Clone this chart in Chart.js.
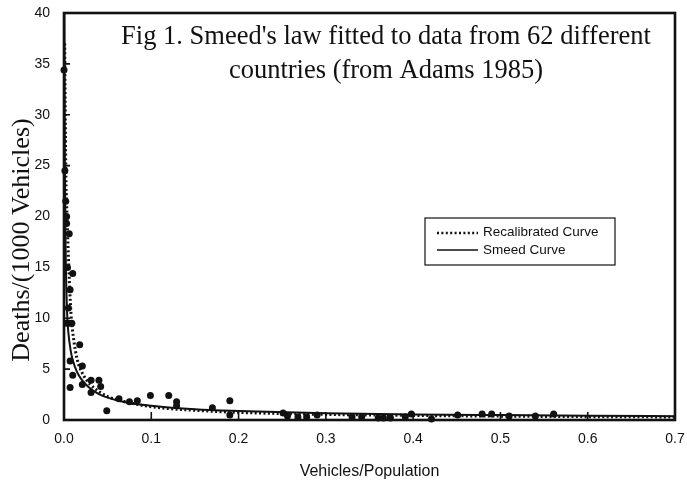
<!DOCTYPE html>
<html>
<head>
<meta charset="utf-8">
<script src="https://cdn.jsdelivr.net/npm/chart.js@4.4.0/dist/chart.umd.min.js"></script>
<style>
  html, body { margin: 0; padding: 0; background: #fff; }
  #wrap { width: 687px; height: 481px; }
</style>
</head>
<body>
<div id="wrap"><canvas id="chart" width="687" height="481"></canvas></div>
<script>
// --- data ---
const countryX = [0.000, 0.003, 0.006, 0.010, 0.007, 0.003, 0.006, 0.009, 0.018, 0.007,
                  0.021, 0.010, 0.007, 0.021, 0.031, 0.031, 0.040, 0.042, 0.049, 0.063,
                  0.075, 0.084, 0.099, 0.120, 0.129, 0.129, 0.170, 0.190, 0.190, 0.251,
                  0.256, 0.268, 0.278, 0.290, 0.330, 0.341, 0.360, 0.366, 0.374, 0.391,
                  0.398, 0.421, 0.451, 0.479, 0.490, 0.510, 0.540, 0.561, 0.002, 0.004,
                  0.005, 0.001, 0.003];
const countryY = [34.4, 19.3, 18.3, 14.4, 12.8, 9.5, 9.5, 9.5, 7.4, 5.8,
                  5.3, 4.4, 3.2, 3.5, 3.9, 2.7, 3.9, 3.3, 0.9, 2.1,
                  1.8, 1.9, 2.4, 2.4, 1.8, 1.4, 1.2, 1.9, 0.5, 0.7,
                  0.4, 0.3, 0.3, 0.5, 0.3, 0.3, 0.2, 0.2, 0.2, 0.3,
                  0.6, 0.1, 0.5, 0.6, 0.6, 0.4, 0.4, 0.6, 21.5, 15.0,
                  11.0, 24.5, 20.0];

const smeedX = [0.0004, 0.001, 0.002, 0.0036, 0.005, 0.0075, 0.01, 0.015,
                0.02, 0.03, 0.04, 0.05, 0.07, 0.1, 0.15, 0.2, 0.3, 0.4, 0.5, 0.6, 0.7];
const smeedY = [41, 25, 16, 10.5, 8.6, 6.9, 5.9, 4.7,
                4.0, 3.1, 2.55, 2.2, 1.75, 1.4, 1.05, 0.88, 0.67, 0.55, 0.48, 0.42, 0.38];

const recalX = [0.0008, 0.002, 0.0035, 0.0055, 0.008, 0.011, 0.015, 0.021, 0.03,
                0.04, 0.05, 0.07, 0.1, 0.15, 0.2, 0.3, 0.4, 0.5, 0.6, 0.7];
const recalY = [37, 25, 20, 15, 10.5, 8, 6, 4.6, 3.5,
                2.8, 2.3, 1.8, 1.3, 0.95, 0.75, 0.55, 0.45, 0.38, 0.33, 0.3];

const xTickLabels = ["0.0", "0.1", "0.2", "0.3", "0.4", "0.5", "0.6", "0.7"];
const yTickLabels = ["0", "5", "10", "15", "20", "25", "30", "35", "40"];
const xTickValues = xTickLabels.map(Number);
const yTickValues = yTickLabels.map(Number);

const titleLines = ["Fig 1. Smeed's law fitted to data from 62 different",
                    "countries (from Adams 1985)"];
const yTitle = "Deaths/(1000 Vehicles)";
const xTitle = "Vehicles/Population";
const legendLabels = ["Recalibrated Curve", "Smeed Curve"];

const ink = "#111";
const toXY = (xs, ys) => xs.map((x, i) => ({ x: x, y: ys[i] }));

// frame, inward ticks, in-plot title, y title and boxed legend
const decor = {
    id: "decor",
    afterDraw(chart) {
        const ctx = chart.ctx;
        const a = chart.chartArea;
        const xs = chart.scales.x, ys = chart.scales.y;
        ctx.save();
        ctx.strokeStyle = ink;
        ctx.lineWidth = 1.6;
        ctx.beginPath();
        xTickValues.forEach(v => {
            const px = xs.getPixelForValue(v);
            ctx.moveTo(px, a.bottom);
            ctx.lineTo(px, a.bottom - 8);
        });
        yTickValues.forEach(v => {
            const py = ys.getPixelForValue(v);
            ctx.moveTo(a.left, py);
            ctx.lineTo(a.left + 6, py);
        });
        ctx.stroke();

        ctx.lineWidth = 2.6;
        ctx.strokeRect(a.left, a.top, a.right - a.left, a.bottom - a.top);

        ctx.fillStyle = ink;
        ctx.font = "26.5px 'Liberation Serif', 'Times New Roman', serif";
        ctx.textAlign = "center";
        ctx.textBaseline = "alphabetic";
        ctx.fillText(titleLines[0], 386, 44);
        ctx.fillText(titleLines[1], 386, 78);

        ctx.save();
        ctx.font = "26px 'Liberation Serif', 'Times New Roman', serif";
        ctx.translate(29, 240);
        ctx.rotate(-Math.PI / 2);
        ctx.fillText(yTitle, 0, 0);
        ctx.restore();

        // legend
        ctx.lineWidth = 1.2;
        ctx.strokeRect(425, 218, 190, 47);
        ctx.beginPath();
        ctx.lineWidth = 2.6;
        ctx.setLineDash([2, 2.4]);
        ctx.moveTo(437, 233);
        ctx.lineTo(478, 233);
        ctx.stroke();
        ctx.setLineDash([]);
        ctx.beginPath();
        ctx.lineWidth = 1.5;
        ctx.moveTo(437, 250);
        ctx.lineTo(478, 250);
        ctx.stroke();
        ctx.font = "13.5px 'Liberation Sans', Arial, sans-serif";
        ctx.textAlign = "left";
        ctx.textBaseline = "middle";
        ctx.fillText(legendLabels[0], 483, 232);
        ctx.fillText(legendLabels[1], 483, 250);
        ctx.restore();
    }
};

const tickFont = { family: "'Liberation Sans', Arial, sans-serif", size: 14 };

new Chart(document.getElementById("chart"), {
    type: "scatter",
    data: {
        datasets: [
            {
                label: "Countries",
                data: toXY(countryX, countryY),
                pointRadius: 3.5,
                pointBackgroundColor: ink,
                pointBorderWidth: 0,
                clip: 5
            },
            {
                label: legendLabels[0],
                data: toXY(recalX, recalY),
                showLine: true,
                borderColor: ink,
                borderWidth: 3,
                borderDash: [2, 2.4],
                pointRadius: 0,
                cubicInterpolationMode: "monotone"
            },
            {
                label: legendLabels[1],
                data: toXY(smeedX, smeedY),
                showLine: true,
                borderColor: ink,
                borderWidth: 2,
                pointRadius: 0,
                cubicInterpolationMode: "monotone"
            }
        ]
    },
    options: {
        responsive: false,
        animation: false,
        devicePixelRatio: 1,
        layout: { padding: { top: 13, right: 12, left: 0, bottom: 0 } },
        plugins: { legend: { display: false }, tooltip: { enabled: false } },
        scales: {
            x: {
                type: "linear",
                min: 0, max: 0.7,
                afterBuildTicks: s => { s.ticks = xTickValues.map(v => ({ value: v })); },
                afterFit: s => { s.height = 61; s.paddingLeft = 0; s.paddingRight = 0; },
                grid: { display: false, drawTicks: false },
                border: { display: false },
                ticks: {
                    color: ink, font: tickFont, padding: 11, maxRotation: 0,
                    callback: (v, i) => xTickLabels[i]
                },
                title: {
                    display: true, text: xTitle, color: ink,
                    font: { family: "'Liberation Sans', Arial, sans-serif", size: 16 },
                    padding: { top: 0, bottom: 0 }
                }
            },
            y: {
                min: 0, max: 40,
                afterBuildTicks: s => { s.ticks = yTickValues.map(v => ({ value: v })); },
                afterFit: s => { s.width = 64; s.paddingTop = 0; s.paddingBottom = 0; },
                grid: { display: false, drawTicks: false },
                border: { display: false },
                ticks: {
                    color: ink, font: tickFont, padding: 14,
                    callback: (v, i) => yTickLabels[i]
                }
            }
        }
    },
    plugins: [decor]
});
</script>
</body>
</html>
